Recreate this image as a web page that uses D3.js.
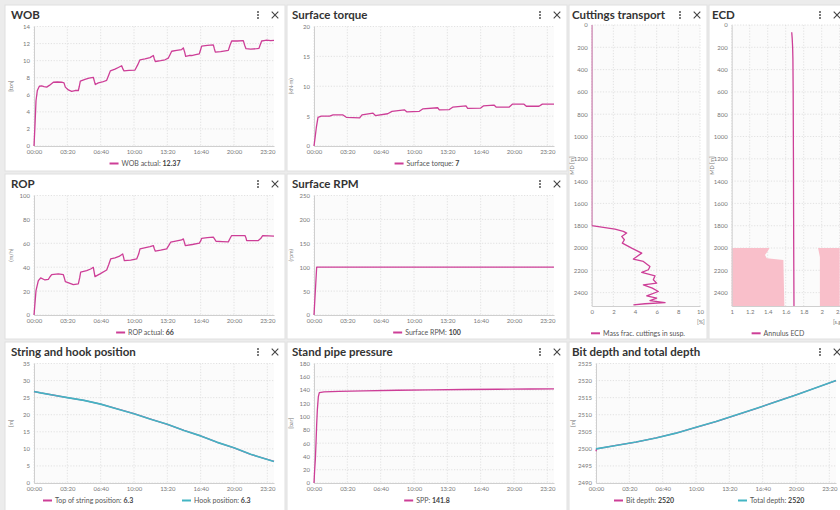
<!DOCTYPE html>
<html>
<head>
<meta charset="utf-8">
<script src="https://cdn.jsdelivr.net/npm/d3@7"></script>
<style>
  html, body { margin: 0; padding: 0; background: #ececec; overflow: hidden; }
  svg { display: block; font-family: Lato, "Open Sans", "DejaVu Sans", sans-serif; }
</style>
</head>
<body>
<svg id="dash" width="840" height="510"></svg>
<script>
// ---- time axis (minutes since 00:00) ----
const timeTicks = [0, 200, 400, 600, 800, 1000, 1200, 1400];
const timeTickLabels = ["00:00", "03:20", "06:40", "10:00", "13:20", "16:40", "20:00", "23:20"];

// ---- time series: [minute, value] ----
const wobActual = [[0,0],[6,2.5],[12,5.3],[20,6.5],[32,7.0],[46,7.04],[60,6.95],[76,6.9],[92,7.1],[116,7.47],[140,7.5],[166,7.47],[180,7.4],[188,6.9],[206,6.57],[226,6.4],[246,6.5],[266,6.5],[272,7.0],[278,7.6],[306,7.8],[330,7.95],[356,8.05],[362,7.6],[368,7.2],[386,7.4],[410,7.5],[436,7.7],[448,8.3],[458,8.8],[486,9.0],[506,9.2],[526,9.4],[534,9.0],[540,8.8],[570,8.85],[606,8.9],[622,9.5],[636,10.1],[666,10.2],[696,10.35],[716,10.6],[722,10.2],[728,9.9],[760,10.0],[786,10.1],[806,10.3],[816,10.7],[826,11.1],[856,11.2],[886,11.3],[896,11.5],[904,11.0],[910,10.5],[930,10.6],[946,10.6],[970,10.7],[992,10.8],[1000,11.3],[1006,11.7],[1040,11.8],[1076,11.85],[1082,11.4],[1088,11.0],[1120,11.05],[1166,11.2],[1176,11.8],[1186,12.3],[1220,12.3],[1256,12.35],[1264,11.8],[1272,11.4],[1300,11.35],[1336,11.4],[1350,11.45],[1358,11.9],[1366,12.3],[1380,12.35],[1396,12.4],[1420,12.35],[1440,12.37]];

const surfaceTorque = [[0,0],[7,1.5],[14,3.1],[24,4.8],[44,5.0],[94,5.0],[114,5.2],[174,5.2],[194,4.8],[274,4.7],[288,5.2],[354,5.5],[368,5.1],[442,5.4],[468,5.8],[542,6.05],[558,5.7],[632,5.8],[652,6.2],[742,6.4],[752,6.05],[812,6.1],[832,6.5],[912,6.7],[922,6.3],[1000,6.35],[1016,6.7],[1080,6.85],[1094,6.5],[1170,6.5],[1190,7.0],[1260,7.0],[1274,6.65],[1350,6.65],[1370,7.0],[1440,7]];

const ropActual = [[0,0],[6,10],[12,20.4],[26,28.8],[40,31],[66,29.3],[86,29.9],[96,32],[106,33.8],[146,34.4],[176,33.8],[182,31],[188,27.9],[216,26.5],[236,25.4],[266,26],[274,31],[280,35.8],[316,37.2],[340,38.5],[356,39.9],[362,35],[366,32.1],[396,34.4],[436,37.7],[448,42],[460,46.9],[486,47.8],[510,49],[532,51.1],[538,48],[542,45.5],[580,46],[616,46.9],[628,51],[636,55.3],[696,57.3],[716,58.1],[722,55.5],[728,53.4],[760,54.2],[796,55.3],[808,58],[820,60.9],[850,61.8],[886,62.8],[896,63.7],[902,61],[908,58.1],[950,59],[992,60.1],[1000,62],[1006,64.2],[1040,64.7],[1076,65.1],[1084,63.5],[1092,61.7],[1130,61.4],[1166,61.2],[1176,64],[1186,66.5],[1266,66.5],[1272,64.5],[1276,62.3],[1346,62.3],[1360,64],[1372,66.5],[1410,66.2],[1440,66]];

const surfaceRpm = [[0,0],[16,100],[1440,100]];

const topOfStringPosition = [[0,26.8],[40,26.4],[120,25.7],[200,25.0],[300,24.2],[400,23.1],[500,21.7],[600,20.3],[700,18.7],[800,17.2],[900,15.4],[1000,13.8],[1100,11.9],[1200,10.3],[1300,8.4],[1400,6.9],[1440,6.3]];
const hookPosition = [[0,26.8],[40,26.4],[120,25.7],[200,25.0],[300,24.2],[400,23.1],[500,21.7],[600,20.3],[700,18.7],[800,17.2],[900,15.4],[1000,13.8],[1100,11.9],[1200,10.3],[1300,8.4],[1400,6.9],[1440,6.3]];

const standPipePressure = [[0,0],[4,20],[8,35],[12,60],[16,88],[20,110],[26,130],[32,136],[60,137.3],[150,138],[300,138.9],[500,139.7],[700,140.3],[900,140.8],[1100,141.2],[1300,141.6],[1440,141.8]];

const bitDepth = [[0,2499.3],[3,2500.0],[120,2501.0],[240,2502.0],[360,2503.2],[480,2504.6],[600,2506.3],[720,2508.0],[840,2509.9],[960,2511.8],[1080,2513.8],[1200,2515.8],[1320,2517.9],[1440,2520]];
const totalDepth = [[0,2500.0],[120,2501.0],[240,2502.0],[360,2503.2],[480,2504.6],[600,2506.3],[720,2508.0],[840,2509.9],[960,2511.8],[1080,2513.8],[1200,2515.8],[1320,2517.9],[1440,2520]];

// ---- depth profiles: [MD m, value] ----
const mdTicks = [0, 200, 400, 600, 800, 1000, 1200, 1400, 1600, 1800, 2000, 2200, 2400];
const cuttingsMassFrac = [[0,0],[1800,0],[1830,2.15],[1851,2.92],[1866,3.23],[1896,2.77],[1926,3.02],[1956,2.83],[2001,3.69],[2046,4.62],[2099,3.85],[2120,4.77],[2165,5.38],[2195,5.23],[2219,4.62],[2249,5.85],[2285,5.69],[2315,6.0],[2330,4.77],[2360,5.6],[2390,6.15],[2429,5.08],[2450,6.0],[2471,5.38],[2489,6.77],[2500,4.92],[2510,3.85]];
const annulusEcd = [[65,1.667],[120,1.672],[200,1.677],[300,1.680],[600,1.683],[1200,1.686],[2000,1.689],[2520,1.692]];
const ecdLowerWindow = [[2000,1.42],[2030,1.40],[2063,1.37],[2092,1.39],[2107,1.574],[2520,1.585]];
const ecdUpperWindow = [[2000,1.96],[2080,1.98],[2520,1.98]];

const MAGENTA = "#cd3e97";
const TEAL = "#43b5c3";

const svg = d3.select("#dash");
svg.append("rect").attr("width", 840).attr("height", 510).attr("fill", "#ececec");

function frame(p) {
  const g = svg.append("g");
  g.append("rect").attr("x", p.x).attr("y", p.y).attr("width", p.w).attr("height", p.h)
    .attr("fill", "#fff").attr("stroke", "#e0e0e0").attr("stroke-width", 1);
  g.append("text").attr("x", p.titleX).attr("y", p.y + 10).attr("dy", "0.36em")
    .attr("font-size", 11.5).attr("font-weight", 700).attr("fill", "#333").text(p.title);
  // menu (vertical dots) and close icons
  const mx = p.x + p.w - 27, cy = p.y + 10;
  [-3, 0, 3].forEach(o => g.append("circle").attr("cx", mx).attr("cy", cy + o).attr("r", 0.95).attr("fill", "#444"));
  const cx = p.x + p.w - 10;
  g.append("path").attr("d", `M${cx-3.3},${cy-3.3}L${cx+3.3},${cy+3.3}M${cx+3.3},${cy-3.3}L${cx-3.3},${cy+3.3}`)
    .attr("stroke", "#444").attr("stroke-width", 1.1);
  return g;
}

function styleAxis(sel) {
  sel.select(".domain").attr("stroke", "#cfcfcf").attr("stroke-width", 1);
  sel.selectAll("text").attr("font-size", 6).attr("fill", "#777").attr("font-family", "Lato, sans-serif");
}

function legendItem(g, x, y, color, label, value) {
  g.append("line").attr("x1", x).attr("x2", x + 9).attr("y1", y).attr("y2", y)
    .attr("stroke", color).attr("stroke-width", 2);
  const t = g.append("text").attr("x", x + 12).attr("y", y).attr("dy", "0.35em")
    .attr("font-size", 7).attr("fill", "#555");
  t.append("tspan").text(label + (value !== undefined ? ": " : ""));
  if (value !== undefined) t.append("tspan").attr("font-weight", 700).attr("fill", "#444").text(value);
  return t;
}

function timePanel(p) {
  const g = frame(p);
  const top = p.y + 21.5, bottom = p.y + 141, left = p.plotLeft, right = left + 240;
  const x = d3.scaleLinear().domain([0, 1440]).range([left, right]);
  const y = d3.scaleLinear().domain(p.yDomain).range([bottom, top]);

  g.append("rect").attr("x", left).attr("y", top).attr("width", right - left).attr("height", bottom - top).attr("fill", "#fbfbfb");
  const grid = g.append("g").attr("stroke", "#dadada").attr("stroke-dasharray", "1.2,1.6").attr("stroke-width", 0.8);
  timeTicks.forEach(t => grid.append("line").attr("x1", x(t)).attr("x2", x(t)).attr("y1", top).attr("y2", bottom));
  p.yTicks.forEach(v => grid.append("line").attr("x1", left).attr("x2", right).attr("y1", y(v)).attr("y2", y(v)));

  g.append("g").attr("transform", `translate(0,${bottom})`)
    .call(d3.axisBottom(x).tickValues(timeTicks).tickFormat((d, i) => timeTickLabels[i]).tickSize(0).tickPadding(4))
    .call(styleAxis);
  g.append("g").attr("transform", `translate(${left},0)`)
    .call(d3.axisLeft(y).tickValues(p.yTicks).tickFormat(d3.format("d")).tickSize(0).tickPadding(4))
    .call(styleAxis);

  g.append("text").attr("transform", `translate(${left - 22.5},${(top + bottom) / 2}) rotate(-90)`)
    .attr("text-anchor", "middle").attr("dy", "0.35em").attr("font-size", 5.5).attr("fill", "#777").text(p.unit);

  const line = d3.line().x(d => x(d[0])).y(d => y(d[1]));
  p.series.forEach((s, i) => {
    g.append("path").datum(s.data).attr("d", line).attr("fill", "none")
      .attr("stroke", s.color).attr("stroke-width", i === 0 ? 1.3 : 1.6).attr("stroke-linejoin", "round");
  });

  const ly = p.y + 158.5;
  if (p.series.length === 1) {
    const s = p.series[0];
    const lg = g.append("g");
    const t = legendItem(lg, 0, ly, s.color, s.label, String(s.data[s.data.length - 1][1]));
    const w = 12 + t.node().getComputedTextLength();
    lg.attr("transform", `translate(${p.x + p.w / 2 - w / 2},0)`);
  } else {
    p.series.forEach((s, i) => legendItem(g, p.legendX[i], ly, s.color, s.label, String(s.data[s.data.length - 1][1])));
  }
}

function depthPanel(p) {
  const g = frame(p);
  const top = p.y + 20, bottom = p.y + 301, left = p.plotLeft, right = p.plotRight;
  const x = d3.scaleLinear().domain(p.xDomain).range([left, right]);
  const y = d3.scaleLinear().domain([0, 2520]).range([top, bottom]);
  const clipId = "clip-" + p.key;
  g.append("clipPath").attr("id", clipId).append("rect")
    .attr("x", left).attr("y", top).attr("width", right - left).attr("height", bottom - top);

  g.append("rect").attr("x", left).attr("y", top).attr("width", right - left).attr("height", bottom - top).attr("fill", "#fbfbfb");
  const grid = g.append("g").attr("stroke", "#dadada").attr("stroke-dasharray", "1.2,1.6").attr("stroke-width", 0.8);
  p.xTicks.forEach(v => grid.append("line").attr("x1", x(v)).attr("x2", x(v)).attr("y1", top).attr("y2", bottom));
  mdTicks.forEach(v => grid.append("line").attr("x1", left).attr("x2", right).attr("y1", y(v)).attr("y2", y(v)));

  if (p.fills) {
    p.fills.forEach(f => {
      const area = d3.area().y(d => y(d[0]))
        .x0(f.side === "low" ? x(p.xDomain[0]) : (d => x(d[1])))
        .x1(f.side === "low" ? (d => x(d[1])) : x(p.xDomain[1]));
      g.append("path").datum(f.data).attr("d", area).attr("fill", "#f9bfca");
    });
  }

  g.append("g").attr("transform", `translate(0,${bottom})`)
    .call(d3.axisBottom(x).tickValues(p.xTicks).tickFormat(d3.format("~g")).tickSize(0).tickPadding(4))
    .call(styleAxis);
  g.append("g").attr("transform", `translate(${left},0)`)
    .call(d3.axisLeft(y).tickValues(mdTicks).tickFormat(d3.format("d")).tickSize(0).tickPadding(4))
    .call(styleAxis);

  g.append("text").attr("transform", `translate(${left - 20},${(top + bottom) / 2}) rotate(-90)`)
    .attr("text-anchor", "middle").attr("dy", "0.35em").attr("font-size", 5.5).attr("fill", "#777").text("MD [m]");
  g.append("text").attr("x", p.unitX).attr("y", bottom + 15.7).attr("dy", "0.35em")
    .attr("font-size", 5.5).attr("fill", "#777").text(p.unit);

  const line = d3.line().x(d => x(d[1])).y(d => y(d[0]));
  g.append("path").datum(p.data).attr("d", line).attr("fill", "none")
    .attr("clip-path", `url(#${clipId})`)
    .attr("stroke", MAGENTA).attr("stroke-width", 1.3).attr("stroke-linejoin", "round");

  const lg = g.append("g");
  const t = legendItem(lg, 0, p.y + 328.3, MAGENTA, p.legend);
  const w = 12 + t.node().getComputedTextLength();
  lg.attr("transform", `translate(${p.x + p.w / 2 - w / 2},0)`);
}

// ---- row 1 ----
timePanel({ x: 5, y: 5, w: 280, h: 166, title: "WOB", titleX: 11, plotLeft: 34,
  yDomain: [0, 14], yTicks: [0, 2, 4, 6, 8, 10, 12, 14], unit: "[ton]",
  series: [{ data: wobActual, color: MAGENTA, label: "WOB actual" }] });
timePanel({ x: 287, y: 5, w: 280, h: 166, title: "Surface torque", titleX: 292, plotLeft: 314,
  yDomain: [0, 20], yTicks: [0, 5, 10, 15, 20], unit: "(kN·m)",
  series: [{ data: surfaceTorque, color: MAGENTA, label: "Surface torque" }] });

// ---- row 2 ----
timePanel({ x: 5, y: 174, w: 280, h: 165, title: "ROP", titleX: 11, plotLeft: 34,
  yDomain: [0, 100], yTicks: [0, 20, 40, 60, 80, 100], unit: "(m/h)",
  series: [{ data: ropActual, color: MAGENTA, label: "ROP actual" }] });
timePanel({ x: 287, y: 174, w: 280, h: 165, title: "Surface RPM", titleX: 292, plotLeft: 314,
  yDomain: [0, 250], yTicks: [0, 50, 100, 150, 200, 250], unit: "(rpm)",
  series: [{ data: surfaceRpm, color: MAGENTA, label: "Surface RPM" }] });

// ---- depth profiles (rows 1-2) ----
depthPanel({ key: "cut", x: 569, y: 5, w: 138, h: 334, title: "Cuttings transport", titleX: 572,
  plotLeft: 591.7, plotRight: 700, xDomain: [0, 10], xTicks: [0, 2, 4, 6, 8, 10],
  unit: "[%]", unitX: 697, data: cuttingsMassFrac, legend: "Mass frac. cuttings in susp." });
depthPanel({ key: "ecd", x: 709, y: 5, w: 138, h: 334, title: "ECD", titleX: 712,
  plotLeft: 731.7, plotRight: 839.7, xDomain: [1, 2.2], xTicks: [1, 1.2, 1.4, 1.6, 1.8, 2, 2.2],
  unit: "[s.g.]", unitX: 833, data: annulusEcd, legend: "Annulus ECD",
  fills: [{ side: "low", data: ecdLowerWindow }, { side: "high", data: ecdUpperWindow }] });

// ---- row 3 ----
timePanel({ x: 5, y: 342, w: 280, h: 172, title: "String and hook position", titleX: 11, plotLeft: 34,
  yDomain: [0, 35], yTicks: [0, 5, 10, 15, 20, 25, 30, 35], unit: "[m]",
  series: [{ data: topOfStringPosition, color: MAGENTA, label: "Top of string position" },
           { data: hookPosition, color: TEAL, label: "Hook position" }],
  legendX: [43, 182] });
timePanel({ x: 287, y: 342, w: 280, h: 172, title: "Stand pipe pressure", titleX: 292, plotLeft: 314,
  yDomain: [0, 180], yTicks: [0, 20, 40, 60, 80, 100, 120, 140, 160, 180], unit: "[bar]",
  series: [{ data: standPipePressure, color: MAGENTA, label: "SPP" }] });
timePanel({ x: 569, y: 342, w: 278, h: 172, title: "Bit depth and total depth", titleX: 572, plotLeft: 596,
  yDomain: [2490, 2525], yTicks: [2490, 2495, 2500, 2505, 2510, 2515, 2520, 2525], unit: "[m]",
  series: [{ data: bitDepth, color: MAGENTA, label: "Bit depth" },
           { data: totalDepth, color: TEAL, label: "Total depth" }],
  legendX: [614, 738] });
</script>
</body>
</html>
